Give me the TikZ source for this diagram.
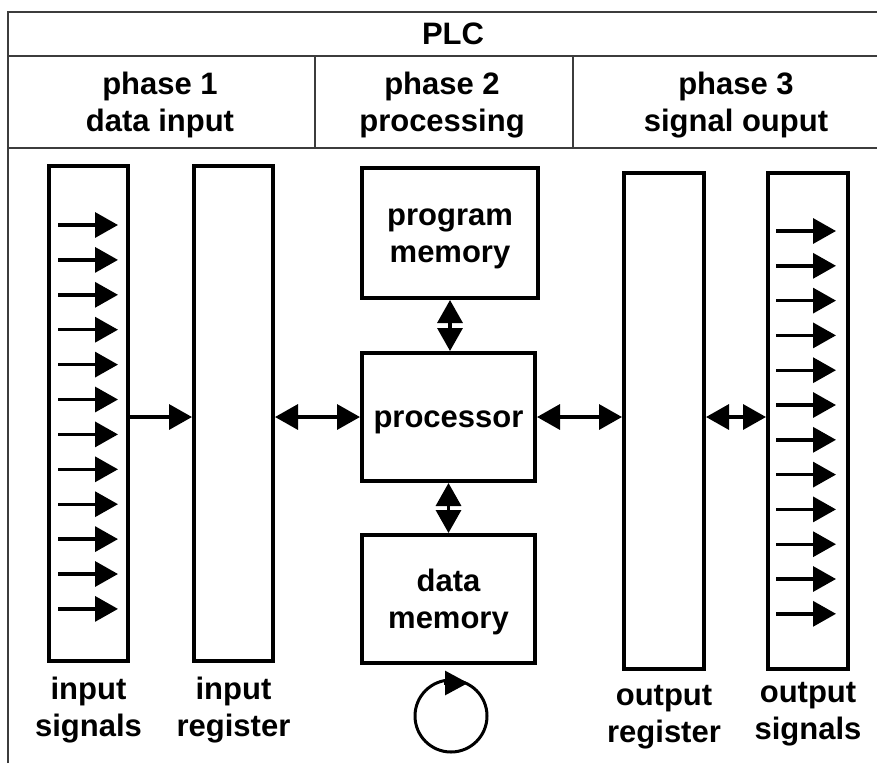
\documentclass[tikz,border=0pt]{standalone}
\usepackage{fontspec}
\setmainfont{Liberation Sans}
\usetikzlibrary{arrows.meta}
\definecolor{tblgray}{RGB}{60,60,60}
% text face and a strut that spans the font's ascent and descent
\newcommand\lblfont{\fontsize{31}{37}\selectfont\bfseries}
\newcommand\ls{\rule[-6.6pt]{0pt}{34.6pt}}
\begin{document}
\begin{tikzpicture}[x=1pt,y=1pt,
  tbl/.style={line width=2.2pt, draw=tblgray},
  box/.style={draw=black, line width=4pt, inner sep=0pt, align=center, font=\lblfont},
  lbl/.style={inner sep=0pt, align=center, font=\lblfont},
  tip/.tip={Triangle[length=23pt,width=25pt]},
  arr/.style={line width=3.4pt, -tip},
  darr/.style={line width=3.4pt, tip-tip},
]
\fill[white] (0,0) rectangle (877,-763);
\useasboundingbox (0,0) rectangle (877,-763);

% header table
\draw[tbl] (8,-763) -- (8,-12) -- (877,-12);
\draw[tbl] (8,-56) -- (877,-56);
\draw[tbl] (8,-148) -- (877,-148);
\draw[tbl] (315,-56) -- (315,-148);
\draw[tbl] (573,-56) -- (573,-148);
\node[lbl] (plc) at (453,-34) {\ls PLC};
\node[lbl] (ph1) at (160,-102) {\ls phase 1\\\ls data input};
\node[lbl] (ph2) at (442,-102) {\ls phase 2\\\ls processing};
\node[lbl] (ph3) at (736,-102) {\ls phase 3\\\ls signal ouput};

% blocks
\node[box, minimum width=79, minimum height=495] (insig)   at (88.5,-413.5) {};
\node[box, minimum width=79, minimum height=495] (inreg)   at (233.5,-413.5) {};
\node[box, minimum width=176, minimum height=130] (progmem) at (450,-233) {\ls program\\\ls memory};
\node[box, minimum width=173, minimum height=128] (proc)    at (448.5,-417) {\ls processor};
\node[box, minimum width=173, minimum height=128] (datamem) at (448.5,-599) {\ls data\\\ls memory};
\node[box, minimum width=80, minimum height=496] (outreg)  at (664,-421) {};
\node[box, minimum width=80, minimum height=496] (outsig)  at (808,-421) {};

% signal lines inside the input and output columns
\foreach \i in {0,...,11} {
  \draw[arr] ([shift={(11,{-61-34.9*\i})}]insig.north west) -- ++(60,0);
  \draw[arr] ([shift={(10,{-60-34.8*\i})}]outsig.north west) -- ++(60,0);
}

% data flow
\draw[arr]  (insig.east |- proc) -- (inreg.west |- proc);
\draw[darr] (inreg.east |- proc) -- (proc.west);
\draw[darr] (proc.east) -- (outreg.west |- proc);
\draw[darr] (outreg.east |- proc) -- (outsig.west |- proc);
\draw[darr] (progmem.south) -- (progmem.south |- proc.north);
\draw[darr] (proc.south) -- (proc.south |- datamem.north);

% cyclic operation symbol
\coordinate (cyc) at (451,-716);
\draw[line width=3pt] (cyc) circle[radius=36];
\draw[line width=3pt, -{Triangle[length=23pt,width=24pt]}] ([shift={(-7,33)}]cyc) -- ([shift={(17,33)}]cyc);

% captions
\node[lbl, anchor=north] (insigl)  at ([yshift=-8]insig.south)  {\ls input\\\ls signals};
\node[lbl, anchor=north] (inregl)  at ([yshift=-8]inreg.south)  {\ls input\\\ls register};
\node[lbl, anchor=north] (outregl) at ([yshift=-6]outreg.south) {\ls output\\\ls register};
\node[lbl, anchor=north] (outsigl) at ([yshift=-3]outsig.south) {\ls output\\\ls signals};
\end{tikzpicture}
\end{document}
